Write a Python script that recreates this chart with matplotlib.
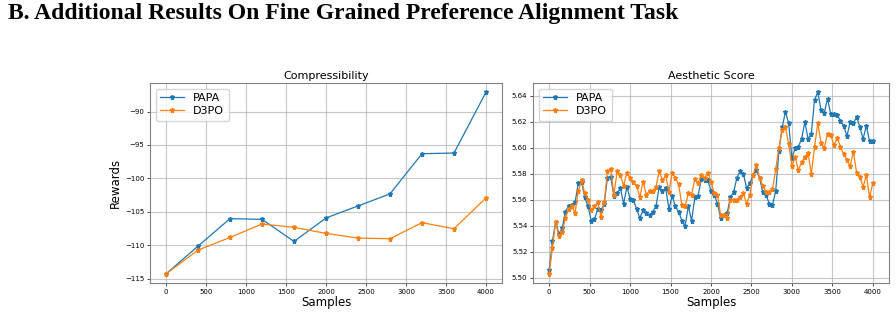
import numpy as np
import matplotlib
matplotlib.use('Agg')
import matplotlib.pyplot as plt

# compressibility, every 400 samples
comp_x = [0, 400, 800, 1200, 1600, 2000, 2400, 2800, 3200, 3600, 4000]
comp_papa = [-114.25, -110.1, -106.0, -106.1, -109.4, -105.9, -104.1, -102.3, -96.3, -96.2, -87.1]
comp_d3po = [-114.25, -110.7, -108.8, -106.8, -107.3, -108.2, -108.9, -109.0, -106.6, -107.5, -102.9]

# aesthetic score, every 40 samples
aes_x = list(range(0, 4001, 40))
aes_papa = [5.506, 5.528, 5.543, 5.534, 5.538, 5.551, 5.555, 5.556, 5.558, 5.573,
            5.574, 5.562, 5.555, 5.544, 5.545, 5.553, 5.552, 5.557, 5.577, 5.578,
            5.563, 5.565, 5.569, 5.557, 5.570, 5.561, 5.560, 5.553, 5.546, 5.552,
            5.550, 5.548, 5.551, 5.555, 5.570, 5.567, 5.569, 5.553, 5.563, 5.555,
            5.551, 5.544, 5.540, 5.555, 5.544, 5.562, 5.563, 5.576, 5.575, 5.575,
            5.567, 5.564, 5.557, 5.546, 5.548, 5.550, 5.562, 5.566, 5.577, 5.582,
            5.580, 5.569, 5.573, 5.579, 5.583, 5.577, 5.566, 5.564, 5.557, 5.556,
            5.567, 5.598, 5.616, 5.628, 5.619, 5.592, 5.600, 5.601, 5.607, 5.620,
            5.607, 5.611, 5.637, 5.643, 5.629, 5.627, 5.638, 5.626, 5.626, 5.625,
            5.621, 5.617, 5.609, 5.620, 5.619, 5.624, 5.616, 5.607, 5.617, 5.605,
            5.605]
aes_d3po = [5.503, 5.523, 5.543, 5.532, 5.535, 5.546, 5.553, 5.555, 5.550, 5.567,
            5.575, 5.565, 5.560, 5.552, 5.555, 5.558, 5.547, 5.558, 5.582, 5.584,
            5.564, 5.582, 5.579, 5.571, 5.581, 5.577, 5.574, 5.571, 5.562, 5.574,
            5.564, 5.567, 5.567, 5.570, 5.582, 5.575, 5.579, 5.566, 5.581, 5.577,
            5.572, 5.556, 5.555, 5.565, 5.564, 5.576, 5.573, 5.579, 5.577, 5.581,
            5.574, 5.565, 5.564, 5.548, 5.548, 5.546, 5.560, 5.560, 5.560, 5.562,
            5.565, 5.557, 5.564, 5.579, 5.587, 5.577, 5.571, 5.566, 5.566, 5.568,
            5.584, 5.600, 5.614, 5.616, 5.603, 5.586, 5.593, 5.583, 5.589, 5.593,
            5.596, 5.580, 5.601, 5.619, 5.604, 5.600, 5.611, 5.610, 5.602, 5.608,
            5.601, 5.595, 5.591, 5.586, 5.597, 5.581, 5.578, 5.570, 5.579, 5.562,
            5.573]

fig = plt.figure(figsize=(8.96, 3.15), dpi=100)
fig.text(8/896, 1-3/315, 'B. Additional Results On Fine Grained Preference Alignment Task',
         family='Liberation Serif', weight='bold', fontsize=17, va='top', ha='left')

ax1 = fig.add_axes([150/896, 1-283/315, 352/896, 200/315])
ax2 = fig.add_axes([533/896, 1-283/315, 356/896, 200/315])

def style(ax, title):
    ax.set_title(title, fontsize=8, pad=3)
    ax.set_xlabel('Samples', fontsize=8.5, labelpad=1)
    ax.tick_params(labelsize=5, length=2, width=0.5, pad=2)
    ax.grid(True, color='#b0b0b0', linewidth=0.8, alpha=0.7)
    for s in ax.spines.values():
        s.set_color('#808080')
        s.set_linewidth(0.8)
    ax.legend(loc='upper left', fontsize=8, handlelength=2.2, borderpad=0.4,
              labelspacing=0.3, handletextpad=0.8, frameon=True)

ax1.plot(comp_x, comp_papa, marker='*', markersize=3.6, linewidth=0.9, label='PAPA')
ax1.plot(comp_x, comp_d3po, marker='*', markersize=3.6, linewidth=0.9, label='D3PO')
ax1.set_ylabel('Rewards', fontsize=8.5, labelpad=2)
ax1.set_xticks([0, 500, 1000, 1500, 2000, 2500, 3000, 3500, 4000])
style(ax1, 'Compressibility')

ax2.plot(aes_x, aes_papa, marker='*', markersize=3.6, linewidth=0.9, label='PAPA')
ax2.plot(aes_x, aes_d3po, marker='*', markersize=3.6, linewidth=0.9, label='D3PO')
ax2.set_xticks([0, 500, 1000, 1500, 2000, 2500, 3000, 3500, 4000])
ax2.set_yticks([5.50, 5.52, 5.54, 5.56, 5.58, 5.60, 5.62, 5.64])
style(ax2, 'Aesthetic Score')

fig.savefig('out.png', dpi=100)
